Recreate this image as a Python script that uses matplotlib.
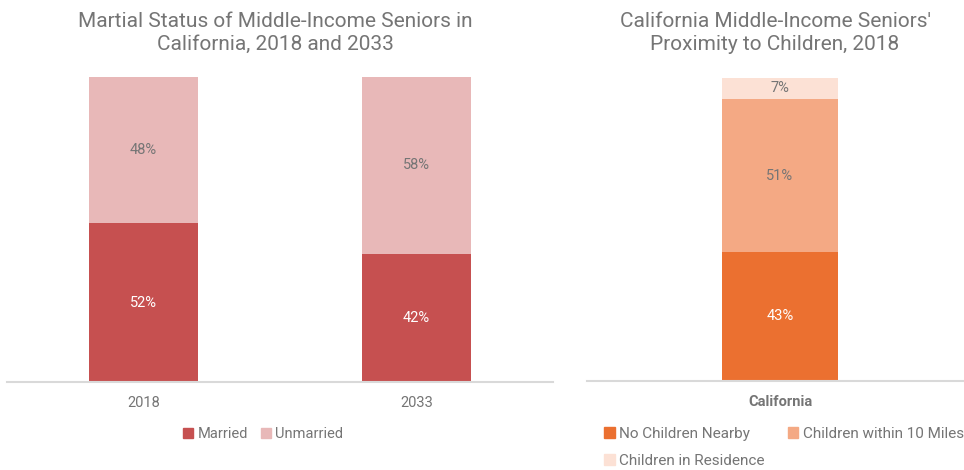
import matplotlib
matplotlib.use("Agg")
import matplotlib.pyplot as plt
from matplotlib.patches import Patch

plt.rcParams['font.family'] = ['Roboto', 'DejaVu Sans']

years = ["2018", "2033"]
married = [52, 42]
unmarried = [48, 58]

region = ["California"]
no_children = [43]
within_10 = [51]
in_residence = [7]

TXT = "#757575"
GRID = "#D9D9D9"
c_mar, c_unm = "#C65050", "#E8B8B8"
c_no, c_10, c_res = "#EB7030", "#F4A984", "#FCE1D5"

fig = plt.figure(figsize=(9.64, 4.70), dpi=100)

# Left panel
ax1 = fig.add_axes([7/964, 1-382/470, 546/964, 305/470])
x = list(range(len(years)))
ax1.bar(x, married, width=0.4, color=c_mar)
ax1.bar(x, unmarried, width=0.4, bottom=married, color=c_unm)
for i in x:
    ax1.text(i, married[i]/2, f"{married[i]}%", ha="center", va="center", color="white", fontsize=10.5)
    ax1.text(i, married[i]+unmarried[i]/2, f"{unmarried[i]}%", ha="center", va="center", color=TXT, fontsize=10.5)
ax1.set_xlim(-0.5, 1.5)
ax1.set_ylim(0, 100)
ax1.set_xticks(x)
ax1.set_xticklabels(years, color=TXT, fontsize=10.5)
ax1.tick_params(axis="x", length=0, pad=10)
ax1.set_yticks([])
for s in ["top", "right", "left"]:
    ax1.spines[s].set_visible(False)
ax1.spines["bottom"].set_color(GRID)
ax1.spines["bottom"].set_linewidth(1.5)
fig.text(275/964, 1-33/470, "Martial Status of Middle-Income Seniors in\nCalifornia, 2018 and 2033",
         ha="center", va="center", color=TXT, fontsize=15, linespacing=1.25)
ax1.legend(handles=[Patch(color=c_mar, label="Married"), Patch(color=c_unm, label="Unmarried")],
           loc="upper center", bbox_to_anchor=(0.469, -0.148), ncol=2, frameon=False,
           fontsize=10.5, handlelength=0.7, handleheight=0.7, handletextpad=0.3,
           columnspacing=0.9, labelcolor=TXT, borderaxespad=0, borderpad=0)

# Right panel
ax2 = fig.add_axes([587/964, 1-381/470, 377/964, 303/470])
ax2.bar([0], no_children, width=0.308, color=c_no)
ax2.bar([0], within_10, width=0.308, bottom=no_children, color=c_10)
b2 = [no_children[0] + within_10[0]]
ax2.bar([0], in_residence, width=0.308, bottom=b2, color=c_res)
ax2.text(0, no_children[0]/2, f"{no_children[0]}%", ha="center", va="center", color="white", fontsize=10.5)
ax2.text(0, no_children[0]+within_10[0]/2, f"{within_10[0]}%", ha="center", va="center", color=TXT, fontsize=10.5)
ax2.text(0, b2[0]+in_residence[0]/2, f"{in_residence[0]}%", ha="center", va="center", color=TXT, fontsize=10.5)
ax2.set_xlim(-0.512, 0.488)
ax2.set_ylim(0, 101)
ax2.set_xticks([0])
ax2.set_xticklabels(region, color=TXT, fontsize=10.5, fontweight="bold")
ax2.tick_params(axis="x", length=0, pad=10)
ax2.set_yticks([])
for s in ["top", "right", "left"]:
    ax2.spines[s].set_visible(False)
ax2.spines["bottom"].set_color(GRID)
ax2.spines["bottom"].set_linewidth(1.5)
fig.text(775/964, 1-33/470, "California Middle-Income Seniors'\nProximity to Children, 2018",
         ha="center", va="center", color=TXT, fontsize=15, linespacing=1.25)
ax2.legend(handles=[Patch(color=c_no, label="No Children Nearby"),
                    Patch(color=c_res, label="Children in Residence"),
                    Patch(color=c_10, label="Children within 10 Miles")],
           loc="upper left", bbox_to_anchor=(0.045, -0.151), ncol=2, frameon=False,
           fontsize=11, handlelength=0.7, handleheight=0.7, handletextpad=0.3,
           columnspacing=1.5, labelcolor=TXT, borderaxespad=0, borderpad=0,
           labelspacing=0.85)

fig.savefig("out.png", dpi=100)
